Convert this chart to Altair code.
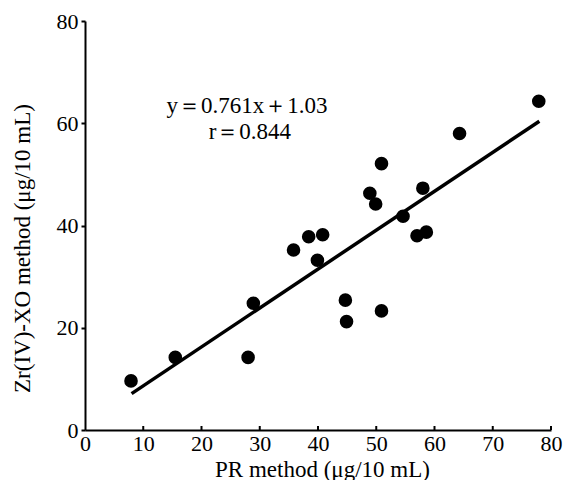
import altair as alt
import pandas as pd

# data
pr_method = [7.9, 15.5, 28.0, 28.9, 35.8, 38.4, 40.8, 39.9, 44.7, 44.9,
             50.9, 48.9, 49.9, 50.9, 54.6, 57.0, 58.6, 58.0, 64.3, 77.9]
zr_method = [9.6, 14.2, 14.2, 24.8, 35.2, 37.8, 38.2, 33.2, 25.4, 21.2,
             23.3, 46.3, 44.2, 52.1, 41.8, 38.0, 38.7, 47.3, 58.0, 64.3]
fit_x = [8.0, 78.0]
fit_y = [7.12, 60.39]
x_ticks = [0, 10, 20, 30, 40, 50, 60, 70, 80]
y_ticks = [0, 20, 40, 60, 80]
inner_ticks = [10, 20, 30, 40, 50, 60, 70, 80]
notes = ["y＝0.761x＋1.03", "r＝0.844"]
note_x = [27.8, 28.3]
note_y = [62.1, 57.0]

FONT = "Liberation Serif"
W, H = 466, 409

pts = pd.DataFrame({"x": pr_method, "y": zr_method})
fit = pd.DataFrame({"x": fit_x, "y": fit_y})
tk = pd.DataFrame({"t": inner_ticks})
nt = pd.DataFrame({"label": notes, "x": note_x, "y": note_y})

xscale = alt.Scale(domain=[0, 80], nice=False, zero=False)
yscale = alt.Scale(domain=[0, 80], nice=False, zero=False)

xaxis = alt.Axis(values=x_ticks, title="PR method (μg/10 mL)", ticks=False,
                 labelPadding=3, labelFontSize=22, labelFont=FONT, labelColor="black",
                 titleFont=FONT, titleFontSize=23, titleFontWeight="normal", titleColor="black",
                 titleX=237, titleY=46, titleBaseline="alphabetic", titleAlign="center",
                 domainColor="black", domainWidth=2, grid=False, labelFlush=False)
yaxis = alt.Axis(values=y_ticks, title="Zr(IV)-XO method (μg/10 mL)", tickSize=4, tickWidth=2,
                 tickColor="black", labelPadding=3, labelFontSize=22, labelFont=FONT,
                 labelColor="black", titleFont=FONT, titleFontSize=23, titleFontWeight="normal",
                 titleColor="black", titleX=-56, titleY=227, titleBaseline="alphabetic",
                 titleAlign="center", titleAngle=-90,
                 domainColor="black", domainWidth=2, grid=False, labelFlush=False)

points = alt.Chart(pts).mark_circle(size=185, color="black", opacity=1).encode(
    x=alt.X("x:Q", scale=xscale, axis=xaxis),
    y=alt.Y("y:Q", scale=yscale, axis=yaxis),
)
line = alt.Chart(fit).mark_line(color="black", strokeWidth=3.5).encode(
    x=alt.X("x:Q", scale=xscale), y=alt.Y("y:Q", scale=yscale)
)
ticks = alt.Chart(tk).mark_rule(color="black", strokeWidth=2).encode(
    x=alt.X("t:Q", scale=xscale), y=alt.value(H), y2=alt.value(H - 4)
)
text = alt.Chart(nt).mark_text(font=FONT, fontSize=23, color="black", align="center",
                               baseline="alphabetic").encode(
    x=alt.X("x:Q", scale=xscale), y=alt.Y("y:Q", scale=yscale), text="label:N"
)

chart = alt.layer(line, points, ticks, text).properties(
    width=W, height=H,
    autosize=alt.AutoSizeParams(type="none"),
    padding={"left": 77, "top": 13, "right": 12, "bottom": 50},
    background="white",
).configure_view(stroke=None)

chart.save("out.html", embed_options={"renderer": "svg", "actions": False})
